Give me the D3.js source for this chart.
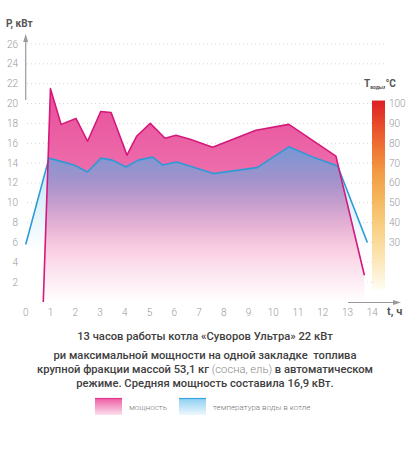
<!DOCTYPE html>
<html><head><meta charset="utf-8">
<script src="https://cdn.jsdelivr.net/npm/d3@7/dist/d3.min.js"></script>
<style>
html,body{margin:0;padding:0;background:#fff;}
svg{display:block;font-family:Roboto,"Open Sans",sans-serif;}
</style></head>
<body>
<svg id="c" width="410" height="458"></svg>
<script>
// ---- data ----
const powerT = [0.71, 1.0, 1.43, 2.03, 2.5, 3.03, 3.45, 4.09, 4.48, 5.03, 5.63, 6.07, 6.64, 7.55, 9.3, 10.63, 12.53, 13.68];
const powerKW = [0, 21.5, 17.9, 18.5, 16.2, 19.2, 19.1, 14.8, 16.7, 18.0, 16.5, 16.8, 16.4, 15.6, 17.3, 17.9, 14.7, 2.7];
const tempT = [0, 0.94, 1.95, 2.5, 3.04, 3.5, 4.05, 4.55, 5.13, 5.53, 6.1, 7.58, 9.35, 10.63, 11.7, 12.6, 13.8];
const tempC = [29, 72.5, 69, 65.5, 72.5, 71.5, 68, 71.5, 73, 69, 70.5, 64.7, 67.7, 78.2, 72.5, 68.5, 30];
const xTicks = [0,1,2,3,4,5,6,7,8,9,10,11,12,13,14];
const yTicks = [2,4,6,8,10,12,14,16,18,20,22,24,26];
const tempTicks = [30,40,50,60,70,80,90,100];
const captionLines = [
  [["13 часов работы котла «Суворов Ультра» 22 кВт", 0]],
  [["ри максимальной мощности на одной закладке  топлива", 0]],
  [["крупной фракции массой 53,1 кг ", 0], ["(сосна, ель)", 1], [" в автоматическом", 0]],
  [["режиме. Средняя мощность составила 16,9 кВт.", 0]]
];
const legendItems = ["мощность", "температура воды в котле"];

// ---- scales ----
const svg = d3.select("#c");
const x = d3.scaleLinear().domain([0,14]).range([25.7,372.3]);
const y = d3.scaleLinear().domain([0,26]).range([302,44]);
const yT = d3.scaleLinear().domain([0,130]).range([302,44]); // °C shares the grid (5°C per kW unit)

const power = powerT.map((t,i)=>({t, v: powerKW[i]}));
const temp = tempT.map((t,i)=>({t, v: tempC[i]}));

const defs = svg.append("defs");
function lg(id, stops, y1, y2, user=true){
  const g = defs.append("linearGradient").attr("id",id).attr("x1",0).attr("x2",0);
  if(user){ g.attr("gradientUnits","userSpaceOnUse").attr("y1",y1).attr("y2",y2); }
  else { g.attr("y1",0).attr("y2",1); }
  stops.forEach(s=>g.append("stop").attr("offset",s[0]).attr("stop-color",s[1]).attr("stop-opacity", s[2]==null?1:s[2]));
}
lg("pinkG", [[0,"#e84c99"],[0.42,"#ed6eac"],[0.62,"#f4a9cd"],[0.82,"#fbdcea"],[1,"#ffffff"]], y(22), y(0));
lg("cyanG", [[0,"#b9e3f7"],[0.6,"#e4f4fc"],[1,"#ffffff"]], y(15), y(5));
lg("blueG", [[0,"#5fa2de",0.85],[0.35,"#7aa6dc",0.6],[0.75,"#a0b8e6",0.15],[1,"#ffffff",0]], y(15.7), y(4.5));
lg("scaleG", [[0,"#dc1f26"],[0.125,"#e84a2a"],[0.25,"#ef7433"],[0.375,"#f29a45"],[0.5,"#f5b35a"],[0.625,"#f8c978"],[0.75,"#fadc9c"],[0.86,"#fce9bd"],[1,"#fffdf5"]], 0,0,false);
lg("legPink", [[0,"#ee5aa3"],[1,"#fbe0ee"]],0,0,false);
lg("legBlue", [[0,"#8ccef2"],[1,"#eef8fd"]],0,0,false);

// ---- grid ----
const grid = svg.append("g");
yTicks.forEach(v=>{
  grid.append("line").attr("x1",27).attr("x2", v>=24 ? 387 : (v>=21 ? 362 : 372))
    .attr("y1",y(v)).attr("y2",y(v))
    .attr("stroke","#d4d4d4").attr("stroke-width",1).attr("stroke-dasharray","1,3");
});

// ---- areas ----
const areaP = d3.area().x(d=>x(d.t)).y0(y(0)).y1(d=>y(d.v));
const areaT = d3.area().x(d=>x(d.t)).y0(y(0)).y1(d=>yT(d.v));
defs.append("clipPath").attr("id","pinkClip").append("path").attr("d", areaP(power));

svg.append("path").attr("d", areaT(temp)).attr("fill","url(#cyanG)");
svg.append("path").attr("d", areaP(power)).attr("fill","url(#pinkG)");
svg.append("path").attr("d", areaT(temp)).attr("fill","url(#blueG)").attr("clip-path","url(#pinkClip)");

const lineP = d3.line().x(d=>x(d.t)).y(d=>y(d.v));
const lineT = d3.line().x(d=>x(d.t)).y(d=>yT(d.v));
svg.append("path").attr("d", lineT(temp)).attr("fill","none").attr("stroke","#2b9bd6").attr("stroke-width",1.6).attr("stroke-linejoin","round");
svg.append("path").attr("d", lineP(power)).attr("fill","none").attr("stroke","#d4197b").attr("stroke-width",1.6).attr("stroke-linejoin","round");

// ---- axes ----
const ax = svg.append("g").attr("fill","#999").attr("font-size",10).attr("font-weight",300);
yTicks.forEach(v=>{
  ax.append("text").attr("x",18).attr("y",y(v)).attr("dy","0.35em").attr("text-anchor","end").text(v);
});
xTicks.forEach(v=>{
  ax.append("text").attr("x",x(v)).attr("y",316).attr("text-anchor","middle").text(v);
});
// axis arrows
svg.append("line").attr("x1",x(0)).attr("x2",x(0)).attr("y1",100).attr("y2",41).attr("stroke","#9a9a9a").attr("stroke-width",1.2);
svg.append("path").attr("d",`M${x(0)-2.5},42 L${x(0)},34 L${x(0)+2.5},42 Z`).attr("fill","#9a9a9a");
svg.append("line").attr("x1",348).attr("x2",394).attr("y1",302.5).attr("y2",302.5).attr("stroke","#9a9a9a").attr("stroke-width",1.2);
svg.append("path").attr("d",`M393,300 L401,302.5 L393,305 Z`).attr("fill","#9a9a9a");

svg.append("text").attr("x",6).attr("y",27).attr("font-size",10).attr("font-weight",700).attr("fill","#555").text("P, кВт");
svg.append("text").attr("x",387).attr("y",315).attr("font-size",11).attr("font-weight",700).attr("fill","#555").text("t, ч");

// ---- colour scale ----
svg.append("rect").attr("x",372).attr("y",yT(100)-3).attr("width",13).attr("height",yT(6)-yT(100)+3).attr("fill","url(#scaleG)");
const sc = svg.append("g").attr("fill","#999").attr("font-size",10).attr("font-weight",300);
tempTicks.forEach(v=>{
  sc.append("text").attr("x",389).attr("y",yT(v)).attr("dy","0.35em").text(v);
});
const tl = svg.append("text").attr("x",364).attr("y",87).attr("font-size",10).attr("font-weight",700).attr("fill","#555");
tl.append("tspan").text("T");
tl.append("tspan").attr("font-size",5).attr("dy",2).text("воды");
tl.append("tspan").attr("dy",-2).text(",°C");

// ---- caption ----
const capY = [340, 359, 373, 387];
captionLines.forEach((parts,i)=>{
  const t = svg.append("text").attr("x",205).attr("y",capY[i]).attr("text-anchor","middle")
    .attr("font-size",11.2).attr("fill","#404040").style("white-space","pre");
  parts.forEach(p=>{
    t.append("tspan").attr("font-weight", p[1] ? 300 : 500).attr("fill", p[1] ? "#888" : "#404040").text(p[0]);
  });
});

// ---- legend ----
const leg = svg.append("g");
[[95,"url(#legPink)","#e33590"],[179,"url(#legBlue)","#3aa6e0"]].forEach((s,i)=>{
  leg.append("rect").attr("x",s[0]).attr("y",398).attr("width",27).attr("height",17).attr("fill",s[1]);
  leg.append("line").attr("x1",s[0]).attr("x2",s[0]+27).attr("y1",398.5).attr("y2",398.5).attr("stroke",s[2]).attr("stroke-width",1.2);
  leg.append("text").attr("x", i===0?129:213).attr("y",410).attr("font-size",8).attr("font-weight",300).attr("fill","#777").text(legendItems[i]);
});
</script>
</body></html>
